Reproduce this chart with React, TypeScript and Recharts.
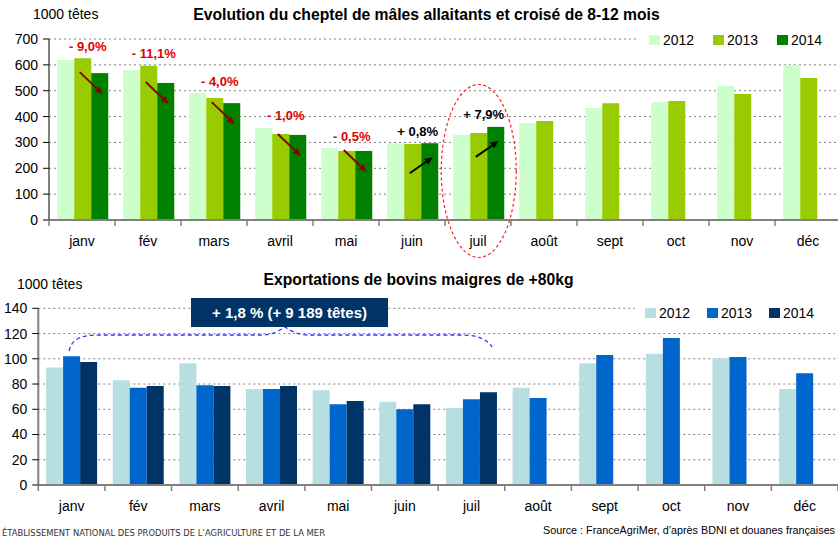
import React from 'react';
import { BarChart, Bar, XAxis, YAxis, CartesianGrid } from 'recharts';

// ---------- data ----------
const months = ['janv', 'fév', 'mars', 'avril', 'mai', 'juin', 'juil', 'août', 'sept', 'oct', 'nov', 'déc'];
const years = ['2012', '2013', '2014'];

const cheptel2012 = [619, 580, 491, 356, 278, 297, 329, 375, 433, 456, 518, 599];
const cheptel2013 = [626, 597, 472, 333, 267, 294, 336, 383, 452, 460, 487, 549];
const cheptel2014 = [568, 530, 452, 329, 267, 297, 360, null, null, null, null, null];
const cheptelEvolution = ['- 9,0%', '- 11,1%', '- 4,0%', '- 1,0%', '- 0,5%', '+ 0,8%', '+ 7,9%'];
const cheptelTicks = [0, 100, 200, 300, 400, 500, 600, 700];

const export2012 = [93, 83, 96.5, 76, 75, 66, 61, 77, 96.5, 104, 100.5, 76];
const export2013 = [102, 77, 79, 76, 64, 60, 68, 69, 103, 116.5, 101.5, 88.5];
const export2014 = [97.5, 78.5, 78.5, 78.5, 66.5, 64, 73.5, null, null, null, null, null];
const exportTicks = [0, 20, 40, 60, 80, 100, 120, 140];
const exportNote = '+ 1,8 % (+ 9 189 têtes)';

const topTitle = 'Evolution du cheptel de mâles allaitants et croisé de 8-12 mois';
const bottomTitle = 'Exportations de bovins maigres de +80kg';
const unitLabel = '1000 têtes';
const footerLeft = 'ÉTABLISSEMENT NATIONAL DES PRODUITS DE L’AGRICULTURE ET DE LA MER';
const footerRight = 'Source : FranceAgriMer, d’après BDNI et douanes françaises';

const greenColors = ['#CCFFCC', '#99CC00', '#008000'];
const blueColors = ['#B7DEE1', '#0066CC', '#003366'];

const cheptelData = months.map((m, i) => ({ month: m, y2012: cheptel2012[i], y2013: cheptel2013[i], y2014: cheptel2014[i] }));
const exportData = months.map((m, i) => ({ month: m, y2012: export2012[i], y2013: export2013[i], y2014: export2014[i] }));

const FONT = '"Liberation Sans", Arial, sans-serif';
const GRAY = '#808080';

// ---------- helpers ----------
function arrow(x1: number, y1: number, x2: number, y2: number, color: string) {
  const ang = Math.atan2(y2 - y1, x2 - x1);
  const L = 8, W = 3.5;
  const bx = x2 - L * Math.cos(ang), by = y2 - L * Math.sin(ang);
  const px = -Math.sin(ang) * W, py = Math.cos(ang) * W;
  return (
    <g>
      <line x1={x1} y1={y1} x2={bx} y2={by} stroke={color} strokeWidth={2} />
      <polygon points={`${x2},${y2} ${bx + px},${by + py} ${bx - px},${by - py}`} fill={color} />
    </g>
  );
}

const makeTick = (axisY: number, bw: number) => (props: any) => {
  const { x, payload, index } = props;
  const last = index === months.length - 1;
  return (
    <g>
      <line x1={x - bw / 2} x2={x - bw / 2} y1={axisY} y2={axisY + 6} stroke={GRAY} strokeWidth={1.5} />
      {last && <line x1={x + bw / 2} x2={x + bw / 2} y1={axisY} y2={axisY + 6} stroke={GRAY} strokeWidth={1.5} />}
      <text x={x} y={axisY + 26} textAnchor="middle" fontSize={14} fill="#000" fontFamily={FONT}>
        {payload.value}
      </text>
    </g>
  );
};

const TopShape = (props: any) => {
  const { x, y, width, height, fill, payload } = props;
  const i = months.indexOf(payload?.month);
  const rect = <rect x={x} y={y} width={width} height={height} fill={fill} />;
  const v14 = cheptel2014[i];
  const note = cheptelEvolution[i];
  if (i < 0 || !note || !v14 || !height) return rect;
  const base = y + height;
  const ppu = height / v14;
  const topMax = base - Math.max(cheptel2012[i], cheptel2013[i], v14) * ppu;
  const c13 = x - width / 2;
  const up = note.startsWith('+');
  return (
    <g>
      {rect}
      <text x={c13 + 5} y={topMax - 7.5} textAnchor="middle" fontSize={13} fontWeight="bold"
        fill={up ? '#000' : '#E00000'} fontFamily={FONT}>{note}</text>
      {up
        ? arrow(c13 - 3, y + 30, c13 + 20, y + 14, '#000')
        : arrow(c13 - 3, y - 1, c13 + 20, y + 21, '#8B0000')}
      {i === 6 && (
        <ellipse cx={c13} cy={base - 49} rx={37.5} ry={86.5} fill="none" stroke="#FF2020" strokeWidth={1.2} strokeDasharray="3 2.5" />
      )}
    </g>
  );
};

const Legend = ({ left, top, colors, gap }: { left: number; top: number; colors: string[]; gap: number }) => (
  <div style={{ position: 'absolute', left: left - 10, top: top - 8, width: 838 - left + 10, height: 26, background: '#fff' }}>
    {years.map((yr, k) => (
      <div key={yr} style={{ position: 'absolute', left: 10 + k * gap, top: 8, height: 10, display: 'flex', alignItems: 'center' }}>
        <div style={{ width: 11, height: 10, background: colors[k] }} />
        <div style={{ marginLeft: 3, fontSize: 14, lineHeight: '10px', color: '#000' }}>{yr}</div>
      </div>
    ))}
  </div>
);

export default function App() {
  const topTickFn = makeTick(220, 66);
  const botTickFn = makeTick(225, 800 / 12);
  return (
    <div style={{ position: 'absolute', left: 0, top: 0, width: 838, height: 539, overflow: 'hidden', background: '#fff', fontFamily: FONT }}>
      <style>{'body{margin:0}'}</style>

      {/* top chart */}
      <div style={{ position: 'absolute', left: 0, top: 0 }}>
        <BarChart width={850} height={260} data={cheptelData} margin={{ top: 39, right: 9, bottom: 10, left: 0 }}
          barGap={0} barCategoryGap="12.5%">
          <CartesianGrid horizontal vertical={false} stroke={GRAY} strokeDasharray="2 3" />
          <XAxis dataKey="month" interval={0} height={30} tickLine={false} axisLine={{ stroke: GRAY, strokeWidth: 2 }} tick={topTickFn} />
          <YAxis width={49} domain={[0, 700]} ticks={cheptelTicks} interval={0} tickSize={6} tickMargin={5}
            tickLine={{ stroke: '#000' }} axisLine={{ stroke: GRAY, strokeWidth: 2 }}
            tick={{ fontSize: 14, fill: '#000' }} />
          <Bar dataKey="y2012" name="2012" fill={greenColors[0]} isAnimationActive={false} />
          <Bar dataKey="y2013" name="2013" fill={greenColors[1]} isAnimationActive={false} />
          <Bar dataKey="y2014" name="2014" fill={greenColors[2]} isAnimationActive={false} shape={TopShape} />
        </BarChart>
      </div>

      {/* bottom chart */}
      <div style={{ position: 'absolute', left: 0, top: 260 }}>
        <BarChart width={838} height={279} data={exportData} margin={{ top: 48.3, right: 0, bottom: 24, left: 0 }}
          barGap={0} barCategoryGap="11.7%">
          <CartesianGrid horizontal vertical={false} stroke={GRAY} strokeDasharray="2 3" />
          <XAxis dataKey="month" interval={0} height={30} tickLine={false} axisLine={{ stroke: GRAY, strokeWidth: 2 }} tick={botTickFn} />
          <YAxis width={38.3} domain={[0, 140]} ticks={exportTicks} interval={0} tickSize={6} tickMargin={5}
            tickLine={{ stroke: '#000' }} axisLine={{ stroke: GRAY, strokeWidth: 2 }}
            tick={{ fontSize: 14, fill: '#000' }} />
          <Bar dataKey="y2012" name="2012" fill={blueColors[0]} isAnimationActive={false} />
          <Bar dataKey="y2013" name="2013" fill={blueColors[1]} isAnimationActive={false} />
          <Bar dataKey="y2014" name="2014" fill={blueColors[2]} isAnimationActive={false} />
        </BarChart>
      </div>

      {/* titles */}
      <div style={{ position: 'absolute', left: 126.5, width: 600, top: 5, textAlign: 'center', fontWeight: 'bold', fontSize: 15.7, lineHeight: '20px' }}>{topTitle}</div>
      <div style={{ position: 'absolute', left: 33, top: 5, fontSize: 14, lineHeight: '18px' }}>{unitLabel}</div>
      <div style={{ position: 'absolute', left: 118.5, width: 600, top: 270, textAlign: 'center', fontWeight: 'bold', fontSize: 15.7, lineHeight: '20px' }}>{bottomTitle}</div>
      <div style={{ position: 'absolute', left: 17, top: 275, fontSize: 14, lineHeight: '18px' }}>{unitLabel}</div>

      {/* legends */}
      <Legend left={649} top={35} colors={greenColors} gap={64} />
      <Legend left={645} top={308} colors={blueColors} gap={62} />

      {/* brace + footer */}
      <svg style={{ position: 'absolute', left: 0, top: 0 }} width={838} height={539}>
        <path d="M69,351 C72,339 80,335 100,335 L262,335 C272,335 279,331 285,327 C291,331 298,335 308,335 L462,335 C478,335 488,340 492,347"
          fill="none" stroke="#3333FF" strokeWidth={1.3} strokeDasharray="4 3" />
        <text x={2} y={536} fontSize={9.5} fill="#333" fontFamily='"DejaVu Sans Condensed", "DejaVu Sans", sans-serif'
          textLength={323} lengthAdjust="spacingAndGlyphs">{footerLeft}</text>
        <text x={543} y={534} fontSize={10.3} fill="#000" fontFamily={FONT}
          textLength={292} lengthAdjust="spacingAndGlyphs">{footerRight}</text>
      </svg>
      <div style={{ position: 'absolute', left: 191, top: 298, width: 197, height: 29, background: '#003366', color: '#fff',
        fontWeight: 'bold', fontSize: 15, display: 'flex', alignItems: 'center', justifyContent: 'center' }}>{exportNote}</div>
    </div>
  );
}
